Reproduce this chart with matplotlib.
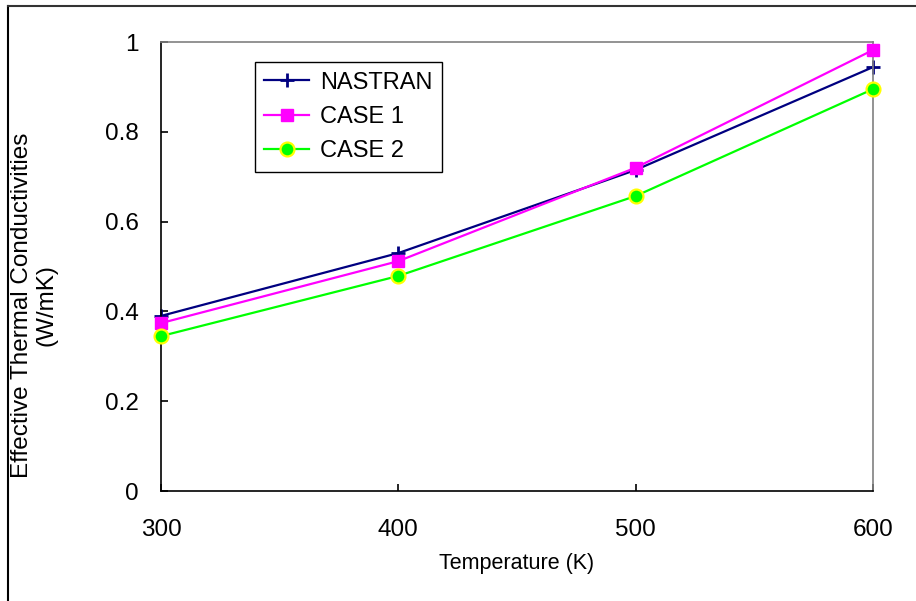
import numpy as np
import matplotlib.pyplot as plt
from matplotlib.lines import Line2D

plt.rcParams['font.family'] = ['Liberation Sans', 'DejaVu Sans']

# data
temperature = [300, 400, 500, 600]
nastran = [0.390, 0.530, 0.715, 0.944]
case1 = [0.374, 0.512, 0.720, 0.982]
case2 = [0.345, 0.479, 0.657, 0.895]

fig = plt.figure(figsize=(9.16, 6.01), dpi=100)
ax = fig.add_axes([0.1758, 0.183, 0.777, 0.747])

ax.plot(temperature, nastran, color='#000080', lw=1.6, marker='+',
        markersize=10, markeredgewidth=2, label='NASTRAN', clip_on=False)
ax.plot(temperature, case1, color='#ff00ff', lw=1.6, marker='s',
        markersize=9, label='CASE 1', clip_on=False, zorder=3)
ax.plot(temperature, case2, color='#00ff00', lw=1.6, marker='o',
        markersize=10, markeredgecolor='#ffff00', markeredgewidth=1.6,
        label='CASE 2', clip_on=False, zorder=3)

ax.set_xlim(300, 600)
ax.set_ylim(0, 1)
ax.set_xticks([300, 400, 500, 600])
ax.set_yticks([0, 0.2, 0.4, 0.6, 0.8, 1])
ax.set_yticklabels(['0', '0.2', '0.4', '0.6', '0.8', '1'])
ax.tick_params(direction='in', length=5, width=1.2, labelsize=17.5)
ax.tick_params(axis='y', pad=16)
ax.tick_params(axis='x', pad=20)

ax.spines['left'].set_color('black')
ax.spines['bottom'].set_color('black')
ax.spines['top'].set_color('#808080')
ax.spines['right'].set_color('#808080')
for s in ax.spines.values():
    s.set_linewidth(1.2)

ax.set_xlabel('Temperature (K)', fontsize=15.5, labelpad=9)
ax.set_ylabel('Effective Thermal Conductivities\n(W/mK)', fontsize=17.5,
              linespacing=1.15)
ax.yaxis.set_label_coords(-0.146, 0.414)

leg = ax.legend(loc='upper left', bbox_to_anchor=(0.132, 0.955), fontsize=17,
                fancybox=False, edgecolor='black', framealpha=1,
                borderaxespad=0, handlelength=1.9, handletextpad=0.45,
                borderpad=0.4, labelspacing=0.52)
leg.get_frame().set_linewidth(1.0)

# outer frame (left and top only)
fig.add_artist(Line2D([8/916, 8/916], [0, 1 - 6/601], color='black', lw=1.5))
fig.add_artist(Line2D([8/916, 1], [1 - 6/601, 1 - 6/601], color='#333333', lw=1.5))

plt.savefig('out.png')
